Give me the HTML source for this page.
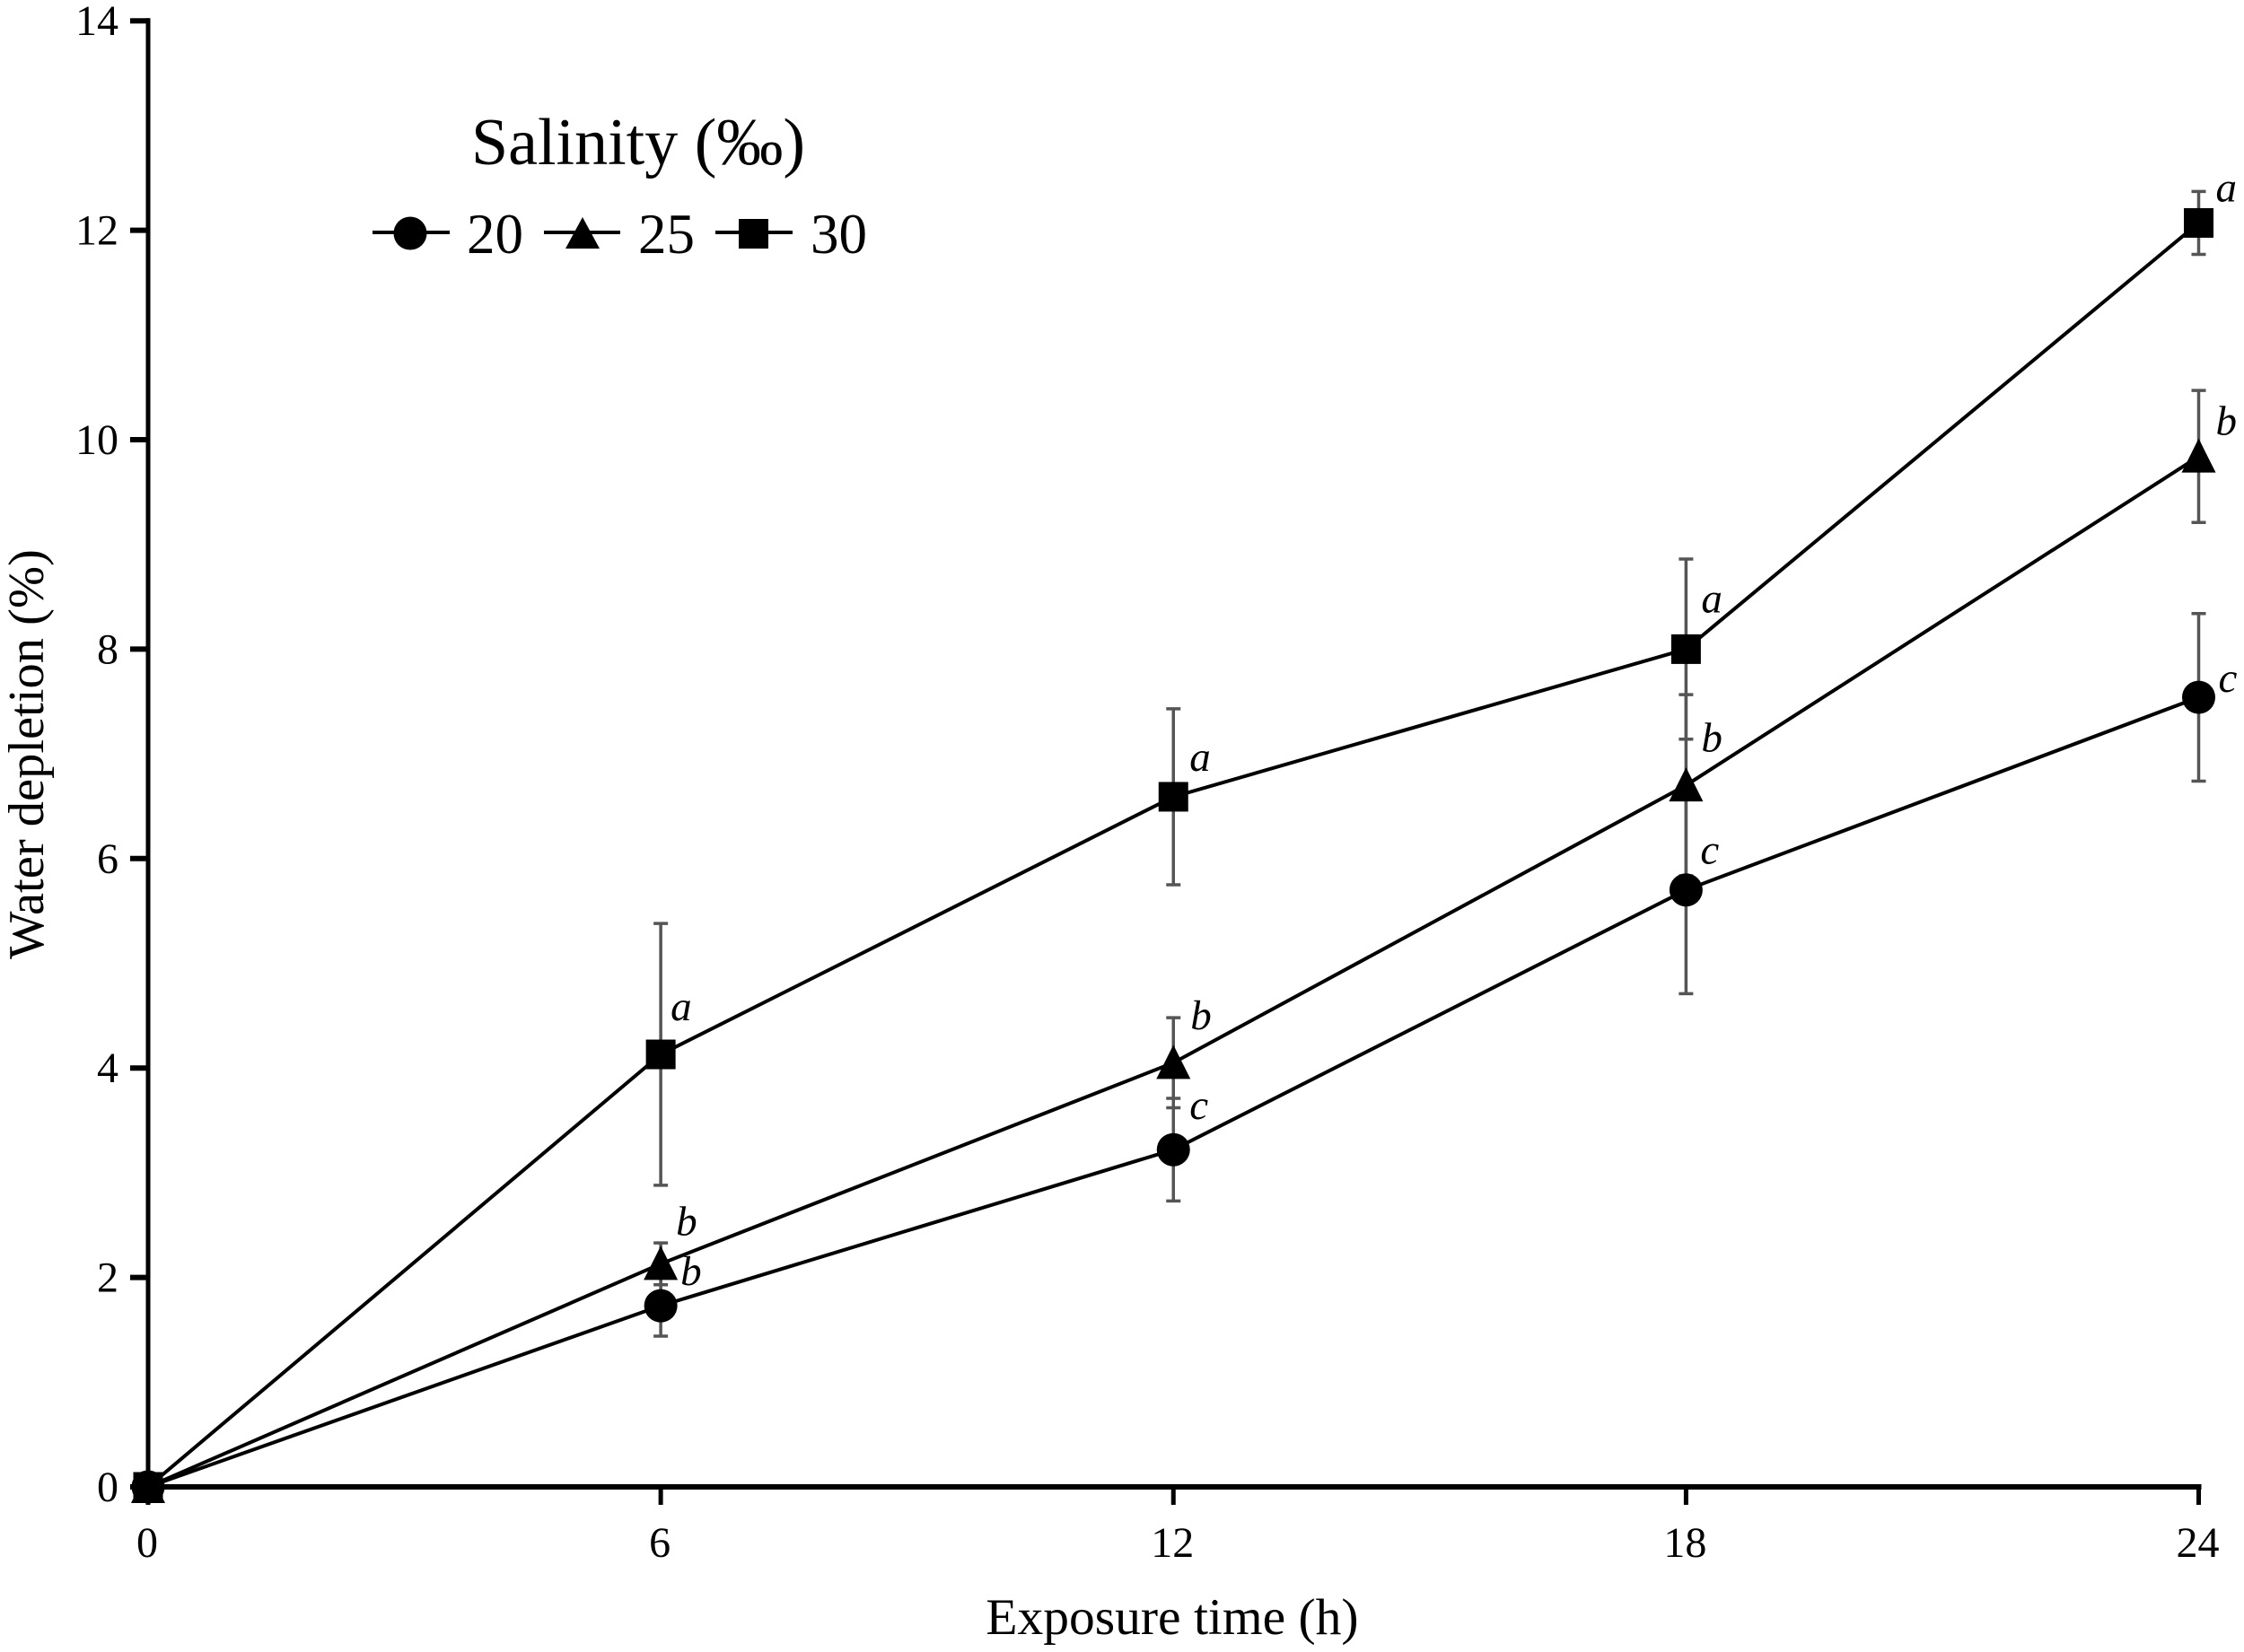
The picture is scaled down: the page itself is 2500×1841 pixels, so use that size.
<!DOCTYPE html>
<html lang="en">
<head>
<meta charset="utf-8">
<title>Water depletion by salinity</title>
<style>
html,body{margin:0;padding:0;background:#fff;}
svg{display:block;}
text{font-family:"Liberation Serif",serif;fill:#000;}
</style>
</head>
<body>
<svg id="chart" xmlns="http://www.w3.org/2000/svg" width="2500" height="1841" viewBox="0 0 2500 1841">
  <rect x="0" y="0" width="2500" height="1841" fill="#ffffff"/>
  <g id="errors"></g>
  <g id="lines"></g>
  <g id="axes"></g>
  <g id="markers"></g>
  <g id="letters"></g>
  <text x="1306" y="1821" font-size="57.5" text-anchor="middle">Exposure time (h)</text>
  <text transform="translate(48 840.5) rotate(-90)" font-size="56.5" text-anchor="middle">Water depletion (%)</text>
  <g>
    <text x="525" y="183" font-size="74">Salinity (‰)</text>
    <g>
      <line x1="415" y1="259" x2="501" y2="259" stroke="#000" stroke-width="4"/>
      <circle cx="457" cy="260" r="18.5" fill="#000"/>
      <text x="520" y="282" font-size="63">20</text>
    </g>
    <g>
      <line x1="606" y1="259" x2="691" y2="259" stroke="#000" stroke-width="4"/>
      <polygon points="649,242 668,277 630,277" fill="#000"/>
      <text x="711" y="282" font-size="63">25</text>
    </g>
    <g>
      <line x1="797" y1="259" x2="883" y2="259" stroke="#000" stroke-width="4"/>
      <rect x="823" y="244" width="33" height="33" fill="#000"/>
      <text x="903" y="282" font-size="63">30</text>
    </g>
  </g>
</svg>
<script>
const hours = [0, 6, 12, 18, 24];
const xTickLabels = ['0', '6', '12', '18', '24'];
const yTickValues = [0, 2, 4, 6, 8, 10, 12, 14];
const depletion20 = [0, 1.73, 3.22, 5.70, 7.54];
const depletion25 = [0, 2.13, 4.05, 6.70, 9.84];
const depletion30 = [0, 4.13, 6.59, 8.00, 12.07];
const error20 = [0, 0.29, 0.49, 0.99, 0.80];
const error25 = [0, 0.20, 0.43, 0.865, 0.63];
const error30 = [0, 1.25, 0.84, 0.86, 0.30];
const letters20 = ['', 'b', 'c', 'c', 'c'];
const letters25 = ['', 'b', 'b', 'b', 'b'];
const letters30 = ['', 'a', 'a', 'a', 'a'];

const NS = 'http://www.w3.org/2000/svg';
function xScale(h) { return 165 + h * (2449.5 - 165) / 24; }
function yScale(v) { return 1657 - v * 116.7; }
function make(tag, parent, attrs) {
  const el = document.createElementNS(NS, tag);
  for (const k in attrs) el.setAttribute(k, attrs[k]);
  parent.appendChild(el);
  return el;
}

const gErrors = document.getElementById('errors');
const gLines = document.getElementById('lines');
const gAxes = document.getElementById('axes');
const gMarkers = document.getElementById('markers');
const gLetters = document.getElementById('letters');

function drawSeries(id, values, errors, labels, shape, nudges) {
  const pts = hours.map((h, i) => xScale(h) + ',' + yScale(values[i])).join(' ');
  const line = make('polyline', gLines, {points: pts, fill: 'none', stroke: '#000', 'stroke-width': 4});
  
  

  hours.forEach((h, i) => {
    const cx = xScale(h);
    const cy = yScale(values[i]);
    const top = yScale(values[i] + errors[i]);
    const bot = yScale(values[i] - errors[i]);
    if (errors[i] > 0) {
      const bar = make('path', gErrors, {
        d: 'M' + cx + ' ' + top + 'V' + bot + 'M' + (cx - 8) + ' ' + top + 'H' + (cx + 8) + 'M' + (cx - 8) + ' ' + bot + 'H' + (cx + 8),
        fill: 'none', stroke: '#555', 'stroke-width': 3.5
      });
      
      
    }
    let m;
    if (shape === 'circle') {
      m = make('circle', gMarkers, {cx: cx, cy: cy, r: 18.5, fill: '#000'});
    } else if (shape === 'triangle') {
      m = make('polygon', gMarkers, {points: cx + ',' + (cy - 20) + ' ' + (cx + 19) + ',' + (cy + 18) + ' ' + (cx - 19) + ',' + (cy + 18), fill: '#000'});
    } else {
      m = make('rect', gMarkers, {x: cx - 16.5, y: cy - 16.5, width: 33, height: 33, fill: '#000'});
    }
    
    

    if (labels[i]) {
      const t = make('text', gLetters, {x: cx + nudges[i][0], y: cy + nudges[i][1], 'font-size': 47, 'font-style': 'italic'});
      t.textContent = labels[i];
      
      
    }
  });
}

drawSeries('20', depletion20, error20, letters20, 'circle', [[0,0],[22,-23],[18,-34],[16,-29.5],[22,-6]]);
drawSeries('25', depletion25, error25, letters25, 'triangle', [[0,0],[17,-32],[19,-37.5],[17,-37.5],[19,-24]]);
drawSeries('30', depletion30, error30, letters30, 'square', [[0,0],[11,-38],[18,-29],[17,-41],[19,-24]]);

const yAxis = make('line', gAxes, {x1: 165, y1: yScale(14) - 3, x2: 165, y2: yScale(0) + 3, stroke: '#000', 'stroke-width': 5});


const xAxis = make('line', gAxes, {x1: 163, y1: yScale(0), x2: xScale(24) + 3, y2: yScale(0), stroke: '#000', 'stroke-width': 6});



yTickValues.forEach(v => {
  const tick = make('line', gAxes, {x1: 145, y1: yScale(v), x2: 166, y2: yScale(v), stroke: '#000', 'stroke-width': 6});
  
  
  const lab = make('text', gAxes, {x: 132, y: yScale(v) + 16, 'font-size': 48, 'text-anchor': 'end'});
  lab.textContent = String(v);
  
  
});

hours.forEach((h, i) => {
  const tick = make('line', gAxes, {x1: xScale(h), y1: yScale(0), x2: xScale(h), y2: 1677, stroke: '#000', 'stroke-width': 5});
  
  
  const lab = make('text', gAxes, {x: xScale(h) - 1, y: 1735, 'font-size': 48, 'text-anchor': 'middle'});
  lab.textContent = xTickLabels[i];
  
  
});
</script>
</body>
</html>
